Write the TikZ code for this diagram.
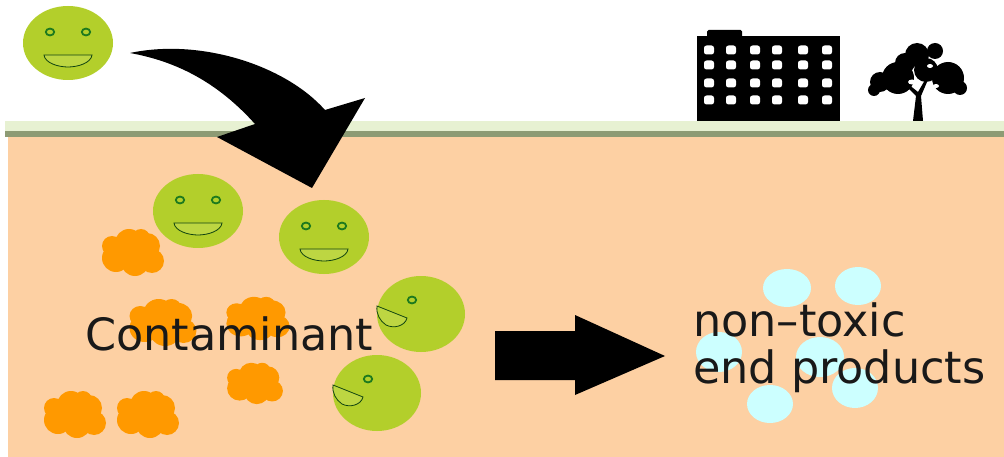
\documentclass[tikz,border=0pt]{standalone}
\usepackage{fontspec}
\setmainfont{DejaVu Sans}
\definecolor{soil}{HTML}{FDD0A3}
\definecolor{grasslight}{HTML}{E7F1D2}
\definecolor{grassdark}{HTML}{8D9B74}
\definecolor{microbe}{HTML}{B3CF2B}
\definecolor{eyegreen}{HTML}{1E7A1E}
\definecolor{mouthfill}{HTML}{BDD642}
\definecolor{pollutant}{HTML}{FF9900}
\definecolor{product}{HTML}{CCFFFF}
\begin{document}
\begin{tikzpicture}[x=1pt,y=-1pt,
  body/.style={fill=microbe},
  eye/.style={draw=eyegreen,line width=1.8pt},
  mouth/.style={draw=eyegreen!55!black,line width=0.8pt,fill=mouthfill},
  lump/.style={fill=pollutant},
  drop/.style={fill=product},
  label/.style={inner sep=0pt,text=black!90,font=\fontsize{44.5}{50}\selectfont},
  face/.pic={
    \fill[body] (0,0) ellipse [x radius=45, y radius=37];
    \draw[eye] (-18,-11) ellipse [x radius=4.2, y radius=3.4];
    \draw[eye] (18,-11) ellipse [x radius=4.2, y radius=3.4];
    \draw[mouth] (-24,12) -- (24,12) .. controls (23,20) and (10,24) .. (0,24)
      .. controls (-10,24) and (-23,20) .. (-24,12) -- cycle;
  },
  sideface/.pic={
    \fill[body] (0,0) ellipse [x radius=44, y radius=38];
    \draw[eye] (-9,-14) ellipse [x radius=4.2, y radius=3.4];
    \draw[mouth] (-44,-8) -- (-14,4) .. controls (-16,12) and (-27,15) .. (-35,11)
      .. controls (-41,7) and (-45,0) .. (-44,-8) -- cycle;
  },
  cloud/.pic={
    \fill[lump] (-17,6) circle [radius=14];
    \fill[lump] (-4,-9) circle [radius=14];
    \fill[lump] (14,-6) circle [radius=13];
    \fill[lump] (19,9) circle [radius=12];
    \fill[lump] (2,10) circle [radius=14];
    \fill[lump] (-21,-6) circle [radius=10];
    \fill[lump] (8,-14) circle [radius=9];
  }
]
\useasboundingbox (0,0) rectangle (1004,457);
\fill[white] (0,0) rectangle (1004,457);

% ground and surface
\fill[soil] (8,137) rectangle (1004,457);
\fill[grasslight] (5,121) rectangle (1004,131);
\fill[grassdark] (5,131) rectangle (1004,137);

% building
\fill[black] (697,36) rectangle (840,121);
\fill[black,rounded corners=1.5] (707,30) rectangle (742,38);
\foreach \wx in {709,731,755,777,803,827}
  \foreach \wy in {50,65,83,100}
    \fill[white,rounded corners=2.5] ({\wx-5},{\wy-4.5}) rectangle ({\wx+5},{\wy+4.5});

% tree
\fill[black] (913,121) -- (916,96) -- (906,86) -- (908,84) -- (918,92) -- (925,80)
  -- (927,82) -- (921,96) -- (923,121) -- cycle;
\fill[black] (917,55) circle [radius=12];
\fill[black] (935,51) circle [radius=8];
\fill[black] (898,78) circle [radius=16];
\fill[black] (880,82) circle [radius=10];
\fill[black] (874,90) circle [radius=6];
\fill[black] (948,78) circle [radius=16];
\fill[black] (960,88) circle [radius=7];
\fill[black] (926,70) circle [radius=12];
\fill[black] (905,63) circle [radius=10];
\fill[white] (912,82) ellipse [x radius=4, y radius=2.5];
\fill[white] (936,86) ellipse [x radius=3, y radius=2];
\fill[white] (930,66) ellipse [x radius=3, y radius=2];

% microbe above ground and its path into the soil
\pic at (68,43) {face};
\fill[black] (130,53) .. controls (200,38) and (285,65) .. (325,110) -- (365,98)
  -- (312,188) -- (217,137) -- (255,124) .. controls (220,85) and (180,62) .. (130,53) -- cycle;

% microbes in the soil
\pic at (198,211) {face};
\pic at (324,237) {face};
\pic at (421,314) {sideface};
\pic at (377,393) {sideface};

% contaminant particles
\pic[xscale=1.00,yscale=1.00] at (133,252) {cloud};
\pic[xscale=1.08,yscale=1.00] at (163,322) {cloud};
\pic[xscale=1.02,yscale=0.92] at (258,318) {cloud};
\pic[xscale=0.90,yscale=0.88] at (255,383) {cloud};
\pic[xscale=1.00,yscale=1.00] at (75,414) {cloud};
\pic[xscale=1.00,yscale=1.00] at (148,414) {cloud};

% conversion arrow
\coordinate (arrowtail) at (495,356);
\coordinate (arrowtip) at (665,356);
\fill[black] (arrowtail) ++(0,-25) -- ++(80,0) -- ++(0,-16) -- (arrowtip)
  -- ++(-90,39) -- ++(0,-15) -- ++(-80,0) -- cycle;

% end products
\fill[drop] (787,288) ellipse [x radius=24, y radius=19];
\fill[drop] (858,286) ellipse [x radius=23, y radius=19];
\fill[drop] (719,352) ellipse [x radius=23, y radius=20];
\fill[drop] (820,357) ellipse [x radius=24, y radius=20];
\fill[drop] (855,388) ellipse [x radius=23, y radius=20];
\fill[drop] (770,404) ellipse [x radius=23, y radius=19];

% labels
\node[label,anchor=base west] (contam) at (85,350) {Contaminant};
\node[label,anchor=base west] (nontoxic) at (693,336) {non–toxic};
\node[label,anchor=base west] (endprod) at (693,383) {end products};
\end{tikzpicture}
\end{document}
